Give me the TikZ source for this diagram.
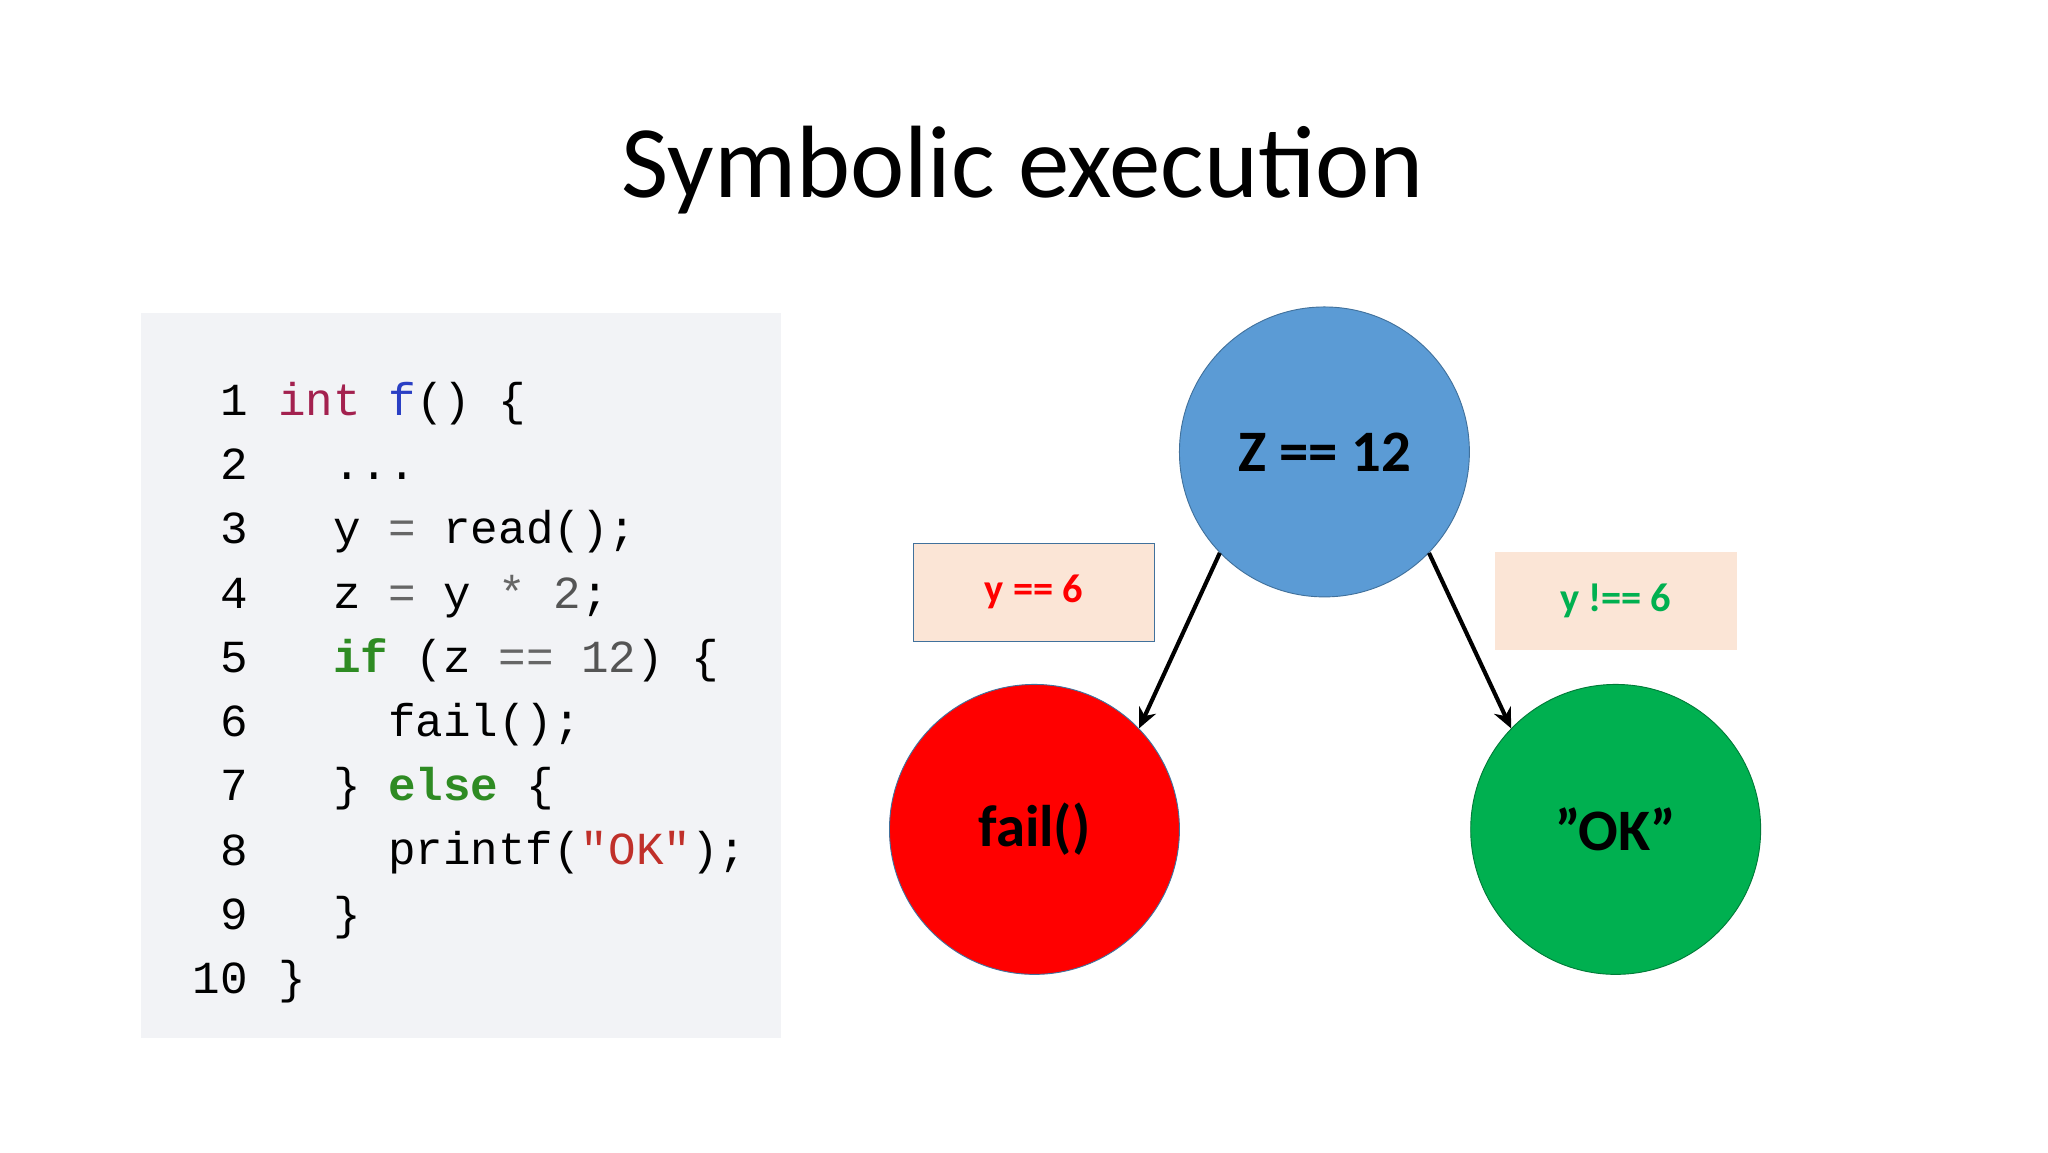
\documentclass[tikz,border=0pt]{standalone}
\usepackage{fontspec}
\setmainfont{Carlito}
\newfontfamily\codefont{Liberation Mono}
\usetikzlibrary{arrows.meta}
\definecolor{kw}{HTML}{A3214F}
\definecolor{fn}{HTML}{2A3FC4}
\definecolor{gk}{HTML}{2E8B23}
\definecolor{num}{HTML}{555555}
\definecolor{op}{HTML}{666666}
\definecolor{str}{HTML}{C0302A}
\definecolor{cbg}{HTML}{F2F3F6}
\definecolor{bluef}{HTML}{5B9BD5}
\definecolor{blued}{HTML}{41719C}
\definecolor{lblbg}{HTML}{FBE5D6}
\definecolor{okg}{HTML}{00B050}
\tikzset{
  code/.style={anchor=base west,inner sep=0pt,font=\codefont\fontsize{50}{50}\selectfont},
  lno/.style={anchor=base east,inner sep=0pt,font=\codefont\fontsize{50}{50}\selectfont},
  state/.style={circle,minimum size=222*0.05cm,inner sep=0pt,draw=blued,line width=1pt,font=\bfseries\fontsize{64}{64}\selectfont},
  lbl/.style={minimum width=185*0.05cm,minimum height=75*0.05cm,fill=lblbg,font=\bfseries\fontsize{44}{44}\selectfont},
  arr/.style={line width=4.5pt,-{Stealth[length=22pt,width=20pt]}}
}
\begin{document}
\begin{tikzpicture}[x=0.05cm,y=-0.05cm]
\useasboundingbox[fill=white] (0,0) rectangle (1568,882);
\node[inner sep=0pt,font=\fontsize{112}{112}\selectfont] (title) at (783,130) {Symbolic execution};
\fill[cbg] (108,240) rectangle (598,795);
\foreach \n [count=\i] in {1,...,10}{
  \node[lno] (l\i) at (190,318+49.2*\i-49.2) {\n};
}
\node[code] (c1) at (213,318) {\textcolor{kw}{int} \textcolor{fn}{f}() \{};
\node[code] (c2) at (255,367) {...};
\node[code] (c3) at (255,416) {y \textcolor{op}{=} read();};
\node[code] (c4) at (255,466) {z \textcolor{op}{=} y \textcolor{op}{*} \textcolor{num}{2};};
\node[code] (c5) at (255,515) {\textcolor{gk}{\bfseries if} (z \textcolor{op}{==} \textcolor{num}{12}) \{};
\node[code] (c6) at (297,564) {fail();};
\node[code] (c7) at (255,613) {\} \textcolor{gk}{\bfseries else} \{};
\node[code] (c8) at (297,662) {printf(\textcolor{str}{"OK"});};
\node[code] (c9) at (255,712) {\}};
\node[code] (c10) at (213,761) {\}};
\node[state,fill=bluef] (z) at (1014,346) {Z == 12};
\node[state,fill=red] (fail) at (792,635) {fail()};
\node[state,fill=okg,draw=okg!70!black] (ok) at (1237,635) {"OK"};
\node[lbl,draw=blued,line width=1pt,text=red] (ly) at (791.5,453.5) {y == 6};
\node[lbl,text=okg] (ln) at (1237,460) {y !== 6};
\draw[arr] (z.224) -- (fail.44);
\draw[arr] (z.316) -- (ok.136);
\end{tikzpicture}
\end{document}
